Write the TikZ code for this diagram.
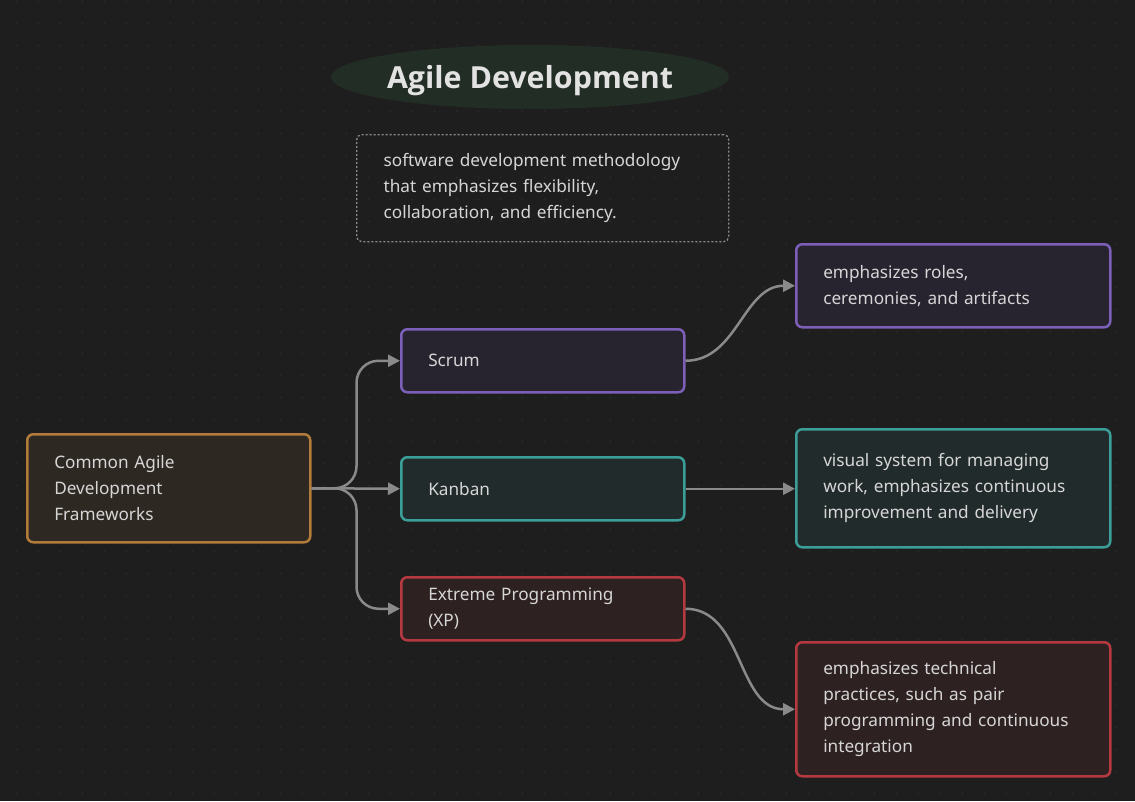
\documentclass[tikz,border=0pt]{standalone}
\usepackage{fontspec}
\setmainfont{Noto Sans}
\newfontfamily\titlefont{Open Sans}
\usetikzlibrary{shapes.geometric,arrows.meta}
\definecolor{bg}{HTML}{1E1E1E}
\definecolor{griddot}{HTML}{2C2C2C}
\definecolor{txt}{HTML}{D6D6D6}
\definecolor{conn}{HTML}{8A8A8A}
\definecolor{oBorder}{HTML}{B27B3A}
\definecolor{oFill}{HTML}{2E2822}
\definecolor{pBorder}{HTML}{7B5FB8}
\definecolor{pFill}{HTML}{28242F}
\definecolor{tBorder}{HTML}{3B9E98}
\definecolor{tFill}{HTML}{222B2B}
\definecolor{rBorder}{HTML}{B43A40}
\definecolor{rFill}{HTML}{2E2122}
\definecolor{titleFill}{HTML}{222D25}
\definecolor{titleTxt}{HTML}{E2E2E2}
\definecolor{descBorder}{HTML}{8C8C8C}
\tikzset{
  box/.style={draw, line width=2.5pt, rounded corners=6pt, text=txt,
    inner xsep=0pt, inner ysep=0pt, align=left,
    font=\fontsize{17.2}{26}\selectfont},
  orangebox/.style={box, draw=oBorder, fill=oFill},
  purplebox/.style={box, draw=pBorder, fill=pFill},
  tealbox/.style={box, draw=tBorder, fill=tFill},
  redbox/.style={box, draw=rBorder, fill=rFill},
  connline/.style={draw=conn, line width=2.5pt, -{Triangle[length=12pt,width=12pt]}},
}
\begin{document}
\begin{tikzpicture}[x=1pt,y=-1pt]
\fill[bg] (0,0) rectangle (1135,801);
\useasboundingbox (0,0) rectangle (1135,801);
\foreach \i in {0,...,51} {
  \foreach \j in {0,...,36} {
    \fill[griddot] (16.5+22*\i, 1.5+22*\j) circle (1pt);
  }
}
% title
\node[ellipse, fill=titleFill, minimum width=398pt, minimum height=64pt, inner sep=0pt] (title) at (530,77) {};
\node[text=titleTxt, font=\titlefont\bfseries\fontsize{30.4}{36}\selectfont, inner sep=0pt] (titletext)
  at ([yshift=-3.5pt]title.center) {Agile Development};
% description
\node[draw=descBorder, line width=1.3pt, dash pattern=on 2pt off 2pt, rounded corners=5pt,
  minimum width=372pt, minimum height=107pt, anchor=north west, inner xsep=0pt, inner ysep=0pt,
  text width=318pt, align=left, text=txt, font=\fontsize{17.2}{26}\selectfont] (desc) at (356,134)
  {software development methodology\\that emphasizes flexibility,\\collaboration, and efficiency.};
% root
\node[orangebox, anchor=north west, minimum width=283pt, minimum height=108pt, text width=229pt] (root) at (26,433)
  {Common Agile\\Development\\Frameworks};
% second level
\node[purplebox, anchor=north west, minimum width=283pt, minimum height=63pt, text width=229pt] (scrum) at (400,328) {Scrum};
\node[tealbox, anchor=north west, minimum width=283pt, minimum height=63pt, text width=229pt] (kanban) at (400,456) {Kanban};
\node[redbox, anchor=north west, minimum width=283pt, minimum height=63pt, text width=229pt] (xp) at (400,576) {Extreme Programming\\(XP)};
% third level
\node[purplebox, anchor=north west, minimum width=314pt, minimum height=83pt, text width=260pt] (scrumd) at (795,243)
  {emphasizes roles,\\ceremonies, and artifacts};
\node[tealbox, anchor=north west, minimum width=314pt, minimum height=118pt, text width=260pt] (kanband) at (795,428)
  {visual system for managing\\work, emphasizes continuous\\improvement and delivery};
\node[redbox, anchor=north west, minimum width=314pt, minimum height=134pt, text width=260pt] (xpd) at (795,641)
  {emphasizes technical\\practices, such as pair\\programming and continuous\\integration};
% connectors
\draw[connline, rounded corners=22pt] (root.east) -- ++(45,0) |- (scrum.west);
\draw[connline] (root.east) -- (kanban.west);
\draw[connline, rounded corners=22pt] (root.east) -- ++(45,0) |- (xp.west);
\draw[connline] (scrum.east) to[out=0,in=180] (scrumd.west);
\draw[connline] (kanban.east) -- (kanban.east -| kanband.west);
\draw[connline] (xp.east) to[out=0,in=180] (xpd.west);
\end{tikzpicture}
\end{document}
